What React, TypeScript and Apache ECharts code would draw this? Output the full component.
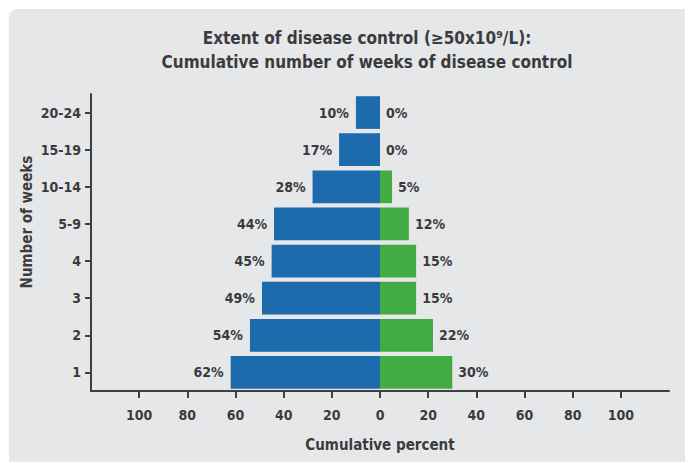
import React, { useEffect, useRef } from "react";
import * as echarts from "echarts";

// Week buckets, bottom to top
const categories = ["1", "2", "3", "4", "5-9", "10-14", "15-19", "20-24"];
// Cumulative percent of patients per bucket
const blueValues = [62, 54, 49, 45, 44, 28, 17, 10];
const greenValues = [30, 22, 15, 15, 12, 5, 0, 0];
const tickValues = [-100, -80, -60, -40, -20, 0, 20, 40, 60, 80, 100];

const titleLines = [
  "Extent of disease control (≥50x10⁹/L):",
  "Cumulative number of weeks of disease control",
];

const FONT = "'Liberation Sans Narrow', 'DejaVu Sans Condensed', 'Roboto', sans-serif";
const TEXT = "#3b3b3d";
const AXIS = "#3f3f41";
const BLUE = "#1d6aad";
const GREEN = "#43ab43";
const PANEL = "#e6e7e9";

export default function App() {
  const ref = useRef<HTMLDivElement>(null);

  useEffect(() => {
    if (!ref.current) return;
    const chart = echarts.init(ref.current, undefined, { renderer: "svg" });
    const valueLabel = {
      show: true,
      color: TEXT,
      fontFamily: FONT,
      fontWeight: "bold",
      fontSize: 14,
    };
    chart.setOption({
      animation: false,
      backgroundColor: "#ffffff",
      graphic: [
        {
          type: "rect",
          z: -10,
          silent: true,
          shape: { x: 9, y: 9, width: 700, height: 480, r: 8 },
          style: { fill: PANEL },
        },
        {
          type: "text",
          x: 27,
          y: 222,
          rotation: Math.PI / 2,
          style: {
            text: "Number of weeks",
            fill: TEXT,
            font: `bold 15px ${FONT}`,
            align: "center",
            verticalAlign: "middle",
          },
        },
      ],
      title: {
        text: titleLines.join("\n"),
        left: 362,
        top: 21,
        textAlign: "center",
        textStyle: {
          fontFamily: FONT,
          fontWeight: "bold",
          fontSize: 17,
          lineHeight: 24,
          color: TEXT,
        },
      },
      grid: { left: 91, right: 16, top: 94, bottom: 71 },
      xAxis: {
        type: "value",
        min: -120,
        max: 120,
        interval: 20,
        splitLine: { show: false },
        axisLine: { show: true, lineStyle: { color: AXIS, width: 2 } },
        axisTick: {
          show: true,
          length: 7,
          lineStyle: { color: AXIS, width: 2 },
          customValues: tickValues,
        },
        axisLabel: {
          customValues: tickValues,
          margin: 17,
          color: TEXT,
          fontFamily: FONT,
          fontWeight: "bold",
          fontSize: 14,
          formatter: (v: number) => String(Math.abs(v)),
        },
        name: "Cumulative percent",
        nameLocation: "middle",
        nameGap: 46,
        nameTextStyle: {
          color: TEXT,
          fontFamily: FONT,
          fontWeight: "bold",
          fontSize: 15,
        },
      },
      yAxis: {
        type: "category",
        data: categories,
        axisLine: { show: true, onZero: false, lineStyle: { color: AXIS, width: 2 } },
        axisTick: {
          show: true,
          alignWithLabel: true,
          length: 6,
          lineStyle: { color: AXIS, width: 2 },
        },
        axisLabel: {
          margin: 10,
          color: TEXT,
          fontFamily: FONT,
          fontWeight: "bold",
          fontSize: 14,
        },
      },
      series: [
        {
          type: "bar",
          barCategoryGap: "12%",
          barGap: "-100%",
          data: blueValues.map((v) => -v),
          itemStyle: { color: BLUE },
          label: {
            ...valueLabel,
            position: "left",
            distance: 7,
            formatter: (p: any) => `${Math.abs(p.value)}%`,
          },
        },
        {
          type: "bar",
          barCategoryGap: "12%",
          barGap: "-100%",
          data: greenValues,
          itemStyle: { color: GREEN },
          label: {
            ...valueLabel,
            position: "right",
            distance: 6,
            formatter: (p: any) => `${p.value}%`,
          },
        },
      ],
    });
    return () => chart.dispose();
  }, []);

  return (
    <div
      ref={ref}
      style={{ position: "fixed", left: 0, top: 0, width: 685, height: 462 }}
    />
  );
}
